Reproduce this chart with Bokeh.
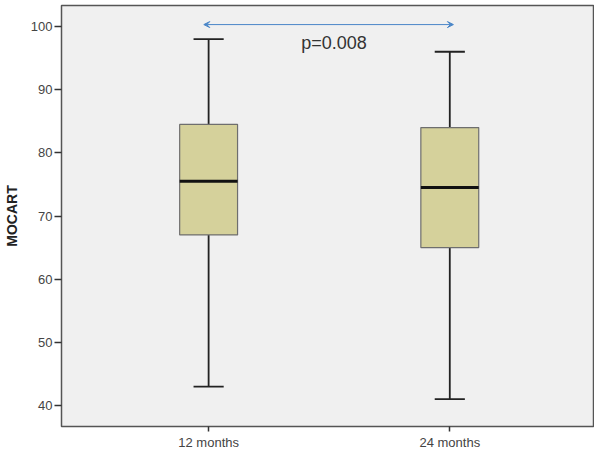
from bokeh.plotting import figure
from bokeh.models import ColumnDataSource, Arrow, VeeHead, Range1d, FixedTicker, Label
from bokeh.embed import file_html
from bokeh.resources import INLINE

categories = ["12 months", "24 months"]
positions = [1, 2]
whisker_low = [43, 41]
q1 = [67, 65]
median = [75.5, 74.5]
q3 = [84.5, 84]
whisker_high = [98, 96]
p_label = "p=0.008"
y_ticks = [40, 50, 60, 70, 80, 90, 100]

box_w = 0.24
cap_half = 0.0625

src = ColumnDataSource(dict(
    x=positions, lo=whisker_low, q1=q1, med=median, q3=q3, hi=whisker_high,
    cl=[x - cap_half for x in positions], cr=[x + cap_half for x in positions],
    bl=[x - box_w / 2 for x in positions], br=[x + box_w / 2 for x in positions],
))

p = figure(width=594, height=452, output_backend="svg", toolbar_location=None,
           x_range=Range1d(0.39, 2.60), y_range=Range1d(36.68, 103.32),
           min_border_left=54, min_border_right=0, min_border_top=5, min_border_bottom=25)
p.background_fill_color = "#f0f0f0"
p.border_fill_color = "white"
p.outline_line_color = "#555555"
p.outline_line_width = 1.5
p.xgrid.grid_line_color = None
p.ygrid.grid_line_color = None

# whiskers
p.segment(x0="x", y0="q3", x1="x", y1="hi", source=src, line_color="#222222", line_width=1.8)
p.segment(x0="x", y0="lo", x1="x", y1="q1", source=src, line_color="#222222", line_width=1.8)
p.segment(x0="cl", y0="hi", x1="cr", y1="hi", source=src, line_color="#222222", line_width=1.8)
p.segment(x0="cl", y0="lo", x1="cr", y1="lo", source=src, line_color="#222222", line_width=1.8)
# boxes
p.vbar(x="x", width=box_w, top="q3", bottom="q1", source=src,
       fill_color="#d5d19b", line_color="#6e6e6e", line_width=1.2)
p.segment(x0="bl", y0="med", x1="br", y1="med", source=src, line_color="#111111", line_width=3)

# significance arrow
p.add_layout(Arrow(x_start=0.98, y_start=100.3, x_end=2.015, y_end=100.3,
                   line_color="#4a86c8", line_width=1,
                   start=VeeHead(size=6, fill_color="#4a86c8", line_color="#4a86c8"),
                   end=VeeHead(size=6, fill_color="#4a86c8", line_color="#4a86c8")))
p.add_layout(Label(x=1.52, y=97.4, text=p_label, text_align="center", text_baseline="middle",
                   text_font="Liberation Sans", text_font_size="18px", text_color="#333333"))

p.xaxis.ticker = FixedTicker(ticks=positions)
p.xaxis.major_label_overrides = {pos: c for pos, c in zip(positions, categories)}
p.yaxis.ticker = FixedTicker(ticks=y_ticks)
p.yaxis.axis_label = "MOCART"
for ax in (p.xaxis, p.yaxis):
    ax.axis_line_color = None
    ax.minor_tick_line_color = None
    ax.major_tick_line_color = "#333333"
    ax.major_tick_line_width = 1.5
    ax.major_tick_in = 0
    ax.major_label_text_font = "Liberation Sans"
    ax.major_label_text_font_size = "13px"
    ax.major_label_text_color = "#444444"
p.xaxis.major_tick_out = 5
p.yaxis.major_tick_out = 7
p.yaxis.major_label_standoff = 2
p.xaxis.major_label_standoff = 3
p.yaxis.axis_label_text_font = "Liberation Sans"
p.yaxis.axis_label_text_font_size = "14px"
p.yaxis.axis_label_text_font_style = "bold"
p.yaxis.axis_label_text_color = "#222222"
p.yaxis.axis_label_standoff = 8

open("out.html", "w").write(file_html(p, INLINE))
